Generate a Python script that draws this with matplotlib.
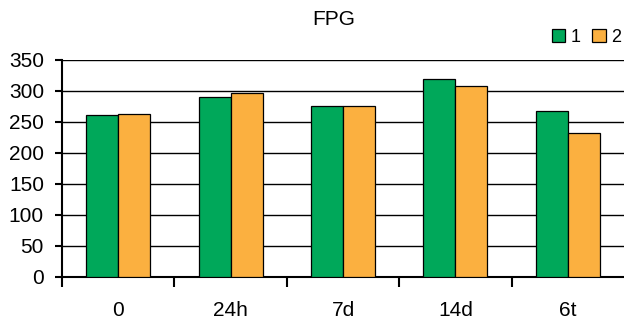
import numpy as np
import matplotlib.pyplot as plt

plt.rcParams['font.family'] = ['Liberation Sans', 'DejaVu Sans']

categories = ['0', '24h', '7d', '14d', '6t']
serie1 = [261, 291, 275, 320, 268]
serie2 = [263, 297, 276, 308, 233]
series_labels = ['1', '2']

fig = plt.figure(figsize=(6.24, 3.22), dpi=100)
ax = fig.add_axes([0.0994, 0.1398, 0.9006, 0.674])

x = np.arange(len(categories))
w = 0.285
ax.bar(x - w / 2, serie1, w, color='#00A85A', edgecolor='black', linewidth=0.9,
       label=series_labels[0], zorder=3)
ax.bar(x + w / 2, serie2, w, color='#FBB040', edgecolor='black', linewidth=0.9,
       label=series_labels[1], zorder=3)

ax.set_xlim(-0.5, len(categories) - 0.5)
ax.set_ylim(0, 350)
ax.set_yticks(np.arange(0, 351, 50))
ax.yaxis.grid(True, color='black', linewidth=1.0, zorder=0)

# ticks en los limites de categoria, etiquetas centradas
ax.set_xticks(np.arange(-0.5, len(categories) - 0.5, 1))
ax.set_xticklabels([])
ax.set_xticks(x, minor=True)
ax.set_xticklabels(categories, minor=True)
ax.tick_params(axis='x', which='major', length=7, width=1.5, direction='out')
ax.tick_params(axis='x', which='minor', length=0, pad=17, labelsize=15)
ax.tick_params(axis='y', length=5, width=1.5, labelsize=15, pad=8)

for s in ['top', 'right']:
    ax.spines[s].set_visible(False)
ax.spines['left'].set_linewidth(1.5)
ax.spines['bottom'].set_linewidth(1.5)

fig.text(0.535, 0.94, 'FPG', ha='center', va='center', fontsize=15)
fig.legend(loc='center', bbox_to_anchor=(0.94, 0.883), ncol=2, frameon=False,
           fontsize=13, handlelength=0.75, handleheight=0.75, handletextpad=0.3,
           columnspacing=0.65, borderaxespad=0)

fig.savefig('out.png', dpi=100)
